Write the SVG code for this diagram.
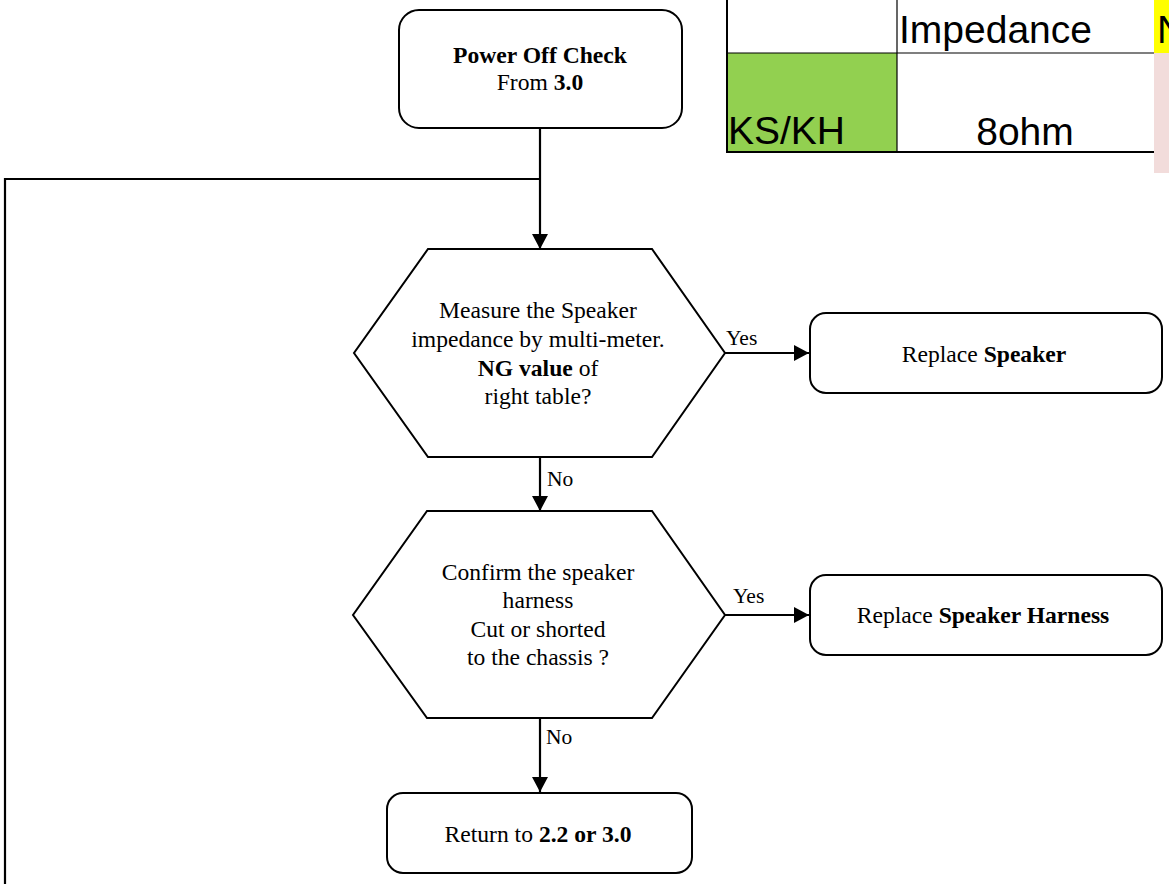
<svg xmlns="http://www.w3.org/2000/svg" width="1169" height="884" viewBox="0 0 1169 884">
<defs>
<style>
.box{fill:#fff;stroke:#000;stroke-width:2}
.t{font-family:"Liberation Serif","Times New Roman",serif;font-size:23.6px;fill:#000;text-anchor:middle}
.lbl{font-family:"Liberation Serif","Times New Roman",serif;font-size:21.5px;fill:#000}
.b{font-weight:bold}
.c{fill:none;stroke:#000;stroke-width:2.2}
.tab{font-family:"Liberation Sans",Arial,sans-serif;font-size:39px;fill:#000}
</style>
<marker id="arr" markerWidth="16" markerHeight="16" viewBox="0 0 16 16" refX="15" refY="8" orient="auto" markerUnits="userSpaceOnUse">
<path d="M0,0 L15,8 L0,16 Z" fill="#000"/>
</marker>
</defs>

<g id="table">
<rect x="727" y="53" width="170" height="99" fill="#92D050"/>
<rect x="1154" y="0" width="15" height="53" fill="#FFFF00"/>
<rect x="1154" y="53" width="15" height="120" fill="#F2DCDB"/>
<line x1="727" y1="0" x2="727" y2="153" stroke="#000" stroke-width="2"/>
<line x1="897" y1="0" x2="897" y2="152" stroke="#000" stroke-width="1.2"/>
<line x1="727" y1="53" x2="1154" y2="53" stroke="#000" stroke-width="1.2"/>
<line x1="726" y1="152" x2="1154" y2="152" stroke="#000" stroke-width="2"/>
<text class="tab" x="899" y="43">Impedance</text>
<text class="tab" x="1157" y="43">NG</text>
<text class="tab" x="728" y="144">KS/KH</text>
<text class="tab" x="1025" y="145" text-anchor="middle">8ohm</text>
</g>

<g id="connectors">
<polyline class="c" points="540,128 540,249" marker-end="url(#arr)"/>
<polyline class="c" points="540,179 5,179 5,884"/>
<polyline class="c" points="725,353 809,353" marker-end="url(#arr)"/>
<polyline class="c" points="540,457 540,511" marker-end="url(#arr)"/>
<polyline class="c" points="725,615 809,615" marker-end="url(#arr)"/>
<polyline class="c" points="540,718 540,792" marker-end="url(#arr)"/>
<text class="lbl" x="726" y="345">Yes</text>
<text class="lbl" x="733" y="603">Yes</text>
<text class="lbl" x="547" y="486">No</text>
<text class="lbl" x="546" y="744">No</text>
</g>

<g id="power-off">
<rect class="box" x="399" y="10" width="283" height="118" rx="20"/>
<text class="t" x="540" y="63"><tspan class="b">Power Off Check</tspan></text>
<text class="t" x="540" y="90">From <tspan class="b">3.0</tspan></text>
</g>

<g id="measure">
<polygon class="box" points="428,249 652,249 725,353 652,457 428,457 354,353"/>
<text class="t" x="538" y="318">Measure the Speaker</text>
<text class="t" x="538" y="347">impedance by multi-meter.</text>
<text class="t" x="538" y="376"><tspan class="b">NG value</tspan> of</text>
<text class="t" x="538" y="404">right table?</text>
</g>

<g id="replace-speaker">
<rect class="box" x="810" y="313" width="352" height="80" rx="16"/>
<text class="t" x="984" y="362">Replace <tspan class="b">Speaker</tspan></text>
</g>

<g id="confirm">
<polygon class="box" points="427,511 652,511 725,615 652,718 427,718 353,615"/>
<text class="t" x="538" y="580">Confirm the speaker</text>
<text class="t" x="538" y="608">harness</text>
<text class="t" x="538" y="637">Cut or shorted</text>
<text class="t" x="538" y="665">to the chassis ?</text>
</g>

<g id="replace-harness">
<rect class="box" x="810" y="575" width="352" height="80" rx="16"/>
<text class="t" x="983" y="623">Replace <tspan class="b">Speaker Harness</tspan></text>
</g>

<g id="return">
<rect class="box" x="387" y="793" width="305" height="80" rx="16"/>
<text class="t" x="538" y="842">Return to <tspan class="b">2.2 or 3.0</tspan></text>
</g>
</svg>
